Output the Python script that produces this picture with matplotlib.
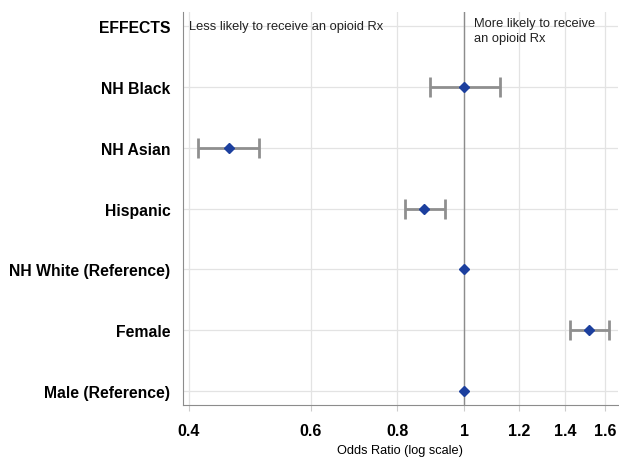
import numpy as np
import matplotlib.pyplot as plt
from matplotlib.ticker import FixedLocator, NullLocator

plt.rcParams['font.family'] = ['Liberation Sans', 'DejaVu Sans']

# data (odds ratios with 95% CI), top to bottom
labels = ['NH Black', 'NH Asian', 'Hispanic', 'NH White (Reference)', 'Female', 'Male (Reference)']
odds = [1.00, 0.457, 0.876, 1.00, 1.516, 1.00]
ci_low = [0.894, 0.412, 0.820, 1.00, 1.423, 1.00]
ci_high = [1.127, 0.505, 0.939, 1.00, 1.623, 1.00]
xticks = [0.4, 0.6, 0.8, 1, 1.2, 1.4, 1.6]
xticklabels = ['0.4', '0.6', '0.8', '1', '1.2', '1.4', '1.6']

fig = plt.figure(figsize=(6.19, 4.6), dpi=100)
ax = fig.add_axes([0.2956, 0.1174, 0.7028, 0.8543])

n = len(labels)
y = np.arange(n, 0, -1) - 1  # 5..0
odds = np.array(odds)
err = np.array([odds - np.array(ci_low), np.array(ci_high) - odds])

has_ci = err.sum(axis=0) > 0
ax.errorbar(odds[has_ci], y[has_ci], xerr=err[:, has_ci], fmt='none',
            ecolor='#8f8f8f', elinewidth=2, capsize=7, capthick=2, zorder=3)
ax.plot(odds, y, 'D', color='#1c3f9e', markersize=5.5, zorder=4)

ax.axvline(1, color='#8c8c8c', lw=1, zorder=2)

ax.set_xscale('log')
ax.set_xlim(0.392, 1.67)
ax.set_ylim(-0.23, n + 0.23)
ax.xaxis.set_major_locator(FixedLocator(xticks))
ax.xaxis.set_minor_locator(NullLocator())
ax.set_xticklabels(xticklabels, fontsize=11.5, fontweight='bold')
ax.set_yticks(list(y) + [n])
ax.set_yticklabels(labels + ['EFFECTS'], fontsize=11.3, fontweight='bold')
ax.tick_params(axis='y', length=0, pad=9)
ax.tick_params(axis='x', length=4, color='#cccccc', pad=9)

ax.grid(True, color='#e3e3e3', lw=0.9, zorder=0)
ax.set_axisbelow(True)
for s in ['top', 'right']:
    ax.spines[s].set_visible(False)
for s in ['left', 'bottom']:
    ax.spines[s].set_color('#8c8c8c')

ax.set_xlabel('Odds Ratio (log scale)', fontsize=9.2, labelpad=4)

ax.text(0.4, n, 'Less likely to receive an opioid Rx', fontsize=9.3,
        va='center', ha='left', color='#222222')
ax.text(1.035, n + 0.14, 'More likely to receive\nan opioid Rx', fontsize=9.3,
        va='top', ha='left', color='#222222', linespacing=1.3)

fig.savefig('out.png', dpi=100)
